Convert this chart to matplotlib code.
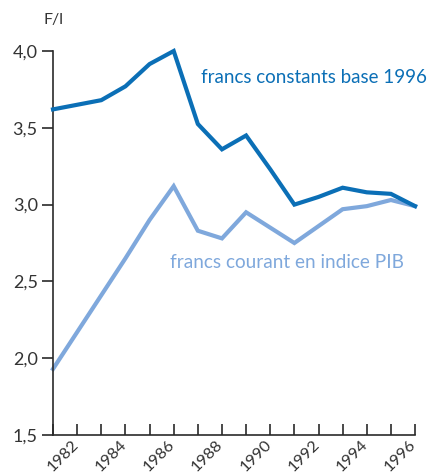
import numpy as np
import matplotlib.pyplot as plt
from matplotlib.ticker import MultipleLocator, FuncFormatter
from matplotlib.transforms import ScaledTranslation

#- Data (F/l)
years = np.arange(1981, 1997)
constants_1996 = [3.62, 3.65, 3.68, 3.77, 3.915, 4.00, 3.525, 3.36,
                  3.45, 3.23, 3.00, 3.05, 3.11, 3.08, 3.07, 2.99]
courant_pib = [1.93, 2.17, 2.41, 2.65, 2.90, 3.12, 2.83, 2.78,
               2.95, 2.85, 2.75, 2.86, 2.97, 2.99, 3.03, 2.99]
xlabels_years = list(range(1982, 1997, 2))

#- Style
dark_blue = '#0b6fb6'
light_blue = '#7fa8dc'
axis_color = '#2a2a2a'
text_color = '#333333'
plt.rcParams['font.family'] = ['Lato', 'DejaVu Sans']

fig = plt.figure(figsize=(4.31, 4.75), dpi=100)
ax = fig.add_axes([0.123, 0.0842, 0.963 - 0.123, 0.8926 - 0.0842])

ax.plot(years, constants_1996, color=dark_blue, linewidth=3,
        solid_joinstyle='miter', clip_on=False, zorder=3)
ax.plot(years, courant_pib, color=light_blue, linewidth=3,
        solid_joinstyle='miter', clip_on=False, zorder=2)

ax.set_xlim(1981, 1996)
ax.set_ylim(1.5, 4.0)

for side in ['top', 'right']:
    ax.spines[side].set_visible(False)
for side in ['left', 'bottom']:
    ax.spines[side].set_color(axis_color)
    ax.spines[side].set_linewidth(1.2)

ax.yaxis.set_major_locator(MultipleLocator(0.5))
ax.yaxis.set_major_formatter(FuncFormatter(lambda v, _: f"{v:.1f}".replace('.', ',')))
ax.tick_params(axis='y', direction='out', length=8, width=1.2,
               color=axis_color, labelcolor=text_color, labelsize=13, pad=3)

ax.set_xticks(xlabels_years)
ax.set_xticks(years, minor=True)
ax.set_xticklabels([str(y) for y in xlabels_years], rotation=45,
                   ha='right', va='top', rotation_mode='anchor')
ax.tick_params(axis='x', which='both', direction='in', length=8, width=1.2,
               color=axis_color, labelcolor=text_color, labelsize=11.8, pad=2)
shift = ScaledTranslation(-0.06, 0, fig.dpi_scale_trans)
for label in ax.get_xticklabels():
    label.set_transform(label.get_transform() + shift)

ax.text(1991.8, 3.83, 'francs constants base 1996', color=dark_blue,
        fontsize=13.5, ha='center', va='center')
ax.text(1990.7, 2.625, 'francs courant en indice PIB', color=light_blue,
        fontsize=13.7, ha='center', va='center')
fig.text(0.123, 0.958, 'F/l', color=text_color, fontsize=11.5,
         ha='center', va='center')

fig.savefig('out.png', dpi=100)
